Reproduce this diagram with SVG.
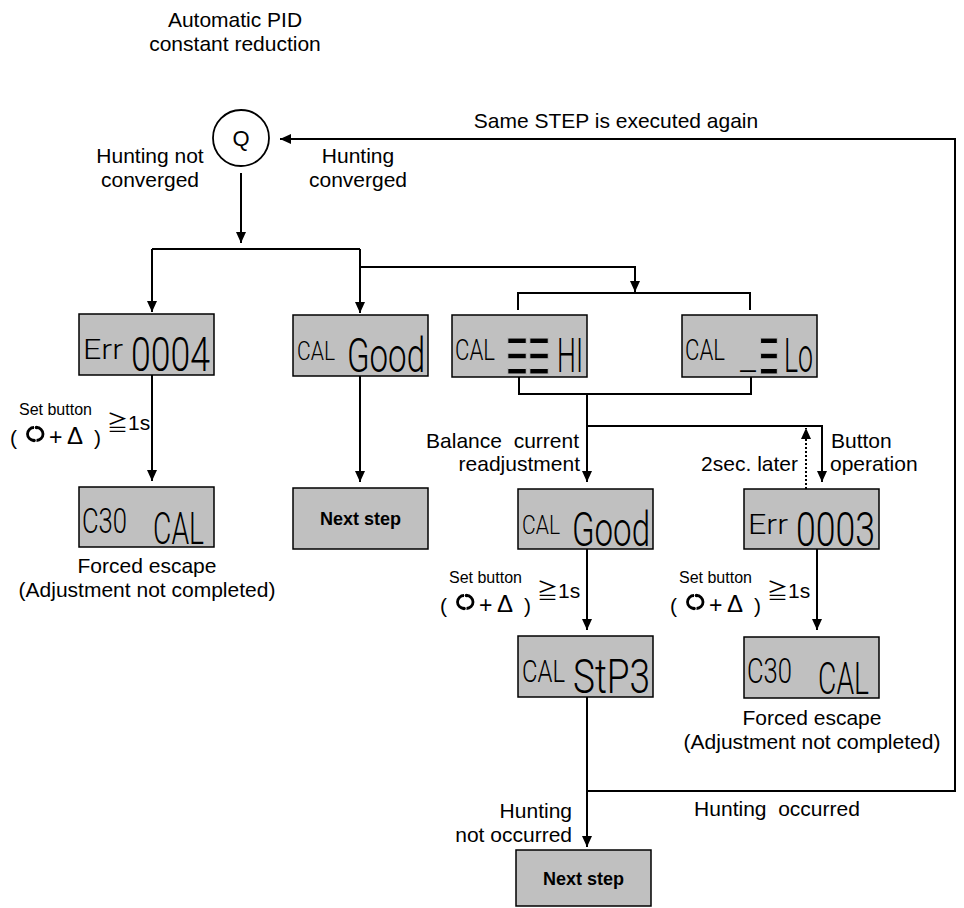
<svg xmlns="http://www.w3.org/2000/svg" xmlns:xlink="http://www.w3.org/1999/xlink" width="964" height="908" viewBox="0 0 964 908">
  <style>
    .lbl { font-family: "Liberation Sans", Arial, "Noto Sans CJK JP", sans-serif; font-size: 21px; fill: #000; }
    .mid { text-anchor: middle; }
    .end { text-anchor: end; }
    .tiny { font-size: 16px; }
    .disp { fill: #c0c0c0; stroke: #000; stroke-width: 1.5; }
    .seg { font-family: Roboto, "DejaVu Sans", sans-serif; font-weight: 300; fill: #000; }
    /* level bars: thinned by a stroke in the panel colour */
    .bars { font-family: "Liberation Sans", "DejaVu Sans", sans-serif; font-size: 88px; fill: #000; stroke: #c0c0c0; stroke-width: 2; }
    .step { font-family: "Liberation Sans", Arial, sans-serif; font-size: 18px; font-weight: bold; fill: #000; text-anchor: middle; }
    .wire { fill: none; stroke: #000; stroke-width: 2; }
    .dotted { stroke-dasharray: 2 2; }
  </style>
  <defs>
    <marker id="arrow" markerUnits="userSpaceOnUse" markerWidth="11" markerHeight="10" refX="11" refY="5" orient="auto">
      <path d="M0,0 L11,5 L0,10 Z" fill="#000"/>
    </marker>
    <!-- "Set button (rotate + up) >= 1s" hint; origin = start/baseline of "Set button" -->
    <g id="setbtn">
      <text class="lbl tiny" x="0" y="0">Set button</text>
      <text class="lbl" x="88" y="15">≧1s</text>
      <text class="lbl" x="-9" y="30">(</text>
      <g fill="none" stroke="#000" stroke-width="2.8">
        <path d="M15,12.5 A6.5,6.5 0 0 0 15,25.5"/>
        <path d="M17.5,12.5 A6.5,6.5 0 0 1 17.5,25.5"/>
      </g>
      <circle cx="15" cy="25.5" r="1.8" fill="#000"/>
      <circle cx="17.5" cy="12.5" r="1.8" fill="#000"/>
      <text class="lbl" x="30" y="30" style="font-size:23px">+</text>
      <text class="lbl" x="48" y="29" style="font-size:24px">Δ</text>
      <text class="lbl" x="75" y="30">)</text>
    </g>
  </defs>

  <!-- title -->
  <g id="title">
    <text class="lbl mid" x="235" y="27">Automatic PID</text>
    <text class="lbl mid" x="235" y="51">constant reduction</text>
  </g>

  <!-- start node -->
  <g id="node-q">
    <circle cx="241" cy="138" r="28" fill="#fff" stroke="#000" stroke-width="1.8"/>
    <text class="lbl mid" x="241" y="146" style="font-size:22px">Q</text>
  </g>

  <!-- connectors -->
  <g id="connectors">
    <path class="wire" d="M241,173 V243" marker-end="url(#arrow)"/>
    <path class="wire" d="M152,249 H360"/>
    <path class="wire" d="M152,249 V312" marker-end="url(#arrow)"/>
    <path class="wire" d="M360,249 V313" marker-end="url(#arrow)"/>
    <path class="wire" d="M360,267 H635 V292" marker-end="url(#arrow)"/>
    <path class="wire" d="M518,310 V293 H750 V310"/>
    <path class="wire" d="M152,375 V481" marker-end="url(#arrow)"/>
    <path class="wire" d="M360,375 V482" marker-end="url(#arrow)"/>
    <path class="wire" d="M519,377 V394 H751 V377"/>
    <path class="wire" d="M587,394 V482" marker-end="url(#arrow)"/>
    <path class="wire" d="M587,426 H822 V482" marker-end="url(#arrow)"/>
    <path class="wire dotted" d="M806,489 V428" marker-end="url(#arrow)"/>
    <path class="wire" d="M587,549 V630" marker-end="url(#arrow)"/>
    <path class="wire" d="M817,549 V630" marker-end="url(#arrow)"/>
    <path class="wire" d="M587,697 V847" marker-end="url(#arrow)"/>
    <path class="wire" d="M587,791 H955 V139 H280" marker-end="url(#arrow)"/>
  </g>

  <!-- connector labels -->
  <g id="labels">
    <text class="lbl mid" x="616" y="128">Same STEP is executed again</text>
    <text class="lbl mid" x="150" y="163">Hunting not</text>
    <text class="lbl mid" x="150" y="187">converged</text>
    <text class="lbl mid" x="358" y="163">Hunting</text>
    <text class="lbl mid" x="358" y="187">converged</text>
    <text class="lbl end" x="579" y="448" xml:space="preserve">Balance  current</text>
    <text class="lbl end" x="580" y="471">readjustment</text>
    <text class="lbl end" x="798" y="471">2sec. later</text>
    <text class="lbl" x="831" y="448">Button</text>
    <text class="lbl" x="830" y="471">operation</text>
    <text class="lbl mid" x="777" y="816" xml:space="preserve">Hunting  occurred</text>
    <text class="lbl end" x="572" y="818">Hunting</text>
    <text class="lbl end" x="572" y="842">not occurred</text>
    <text class="lbl mid" x="147" y="573">Forced escape</text>
    <text class="lbl mid" x="147" y="597">(Adjustment not completed)</text>
    <text class="lbl mid" x="812" y="725">Forced escape</text>
    <text class="lbl mid" x="812" y="749">(Adjustment not completed)</text>
    <use xlink:href="#setbtn" x="19" y="415"/>
    <use xlink:href="#setbtn" x="449" y="583"/>
    <use xlink:href="#setbtn" x="679" y="583"/>
  </g>

  <!-- display nodes -->
  <g id="disp-err0004">
    <rect class="disp" x="79" y="314" width="135" height="61"/>
    <text class="seg"><tspan x="83" y="359" font-size="27" textLength="40" lengthAdjust="spacingAndGlyphs">Err</tspan><tspan x="131" y="371" font-size="48" textLength="79" lengthAdjust="spacingAndGlyphs">0004</tspan></text>
  </g>
  <g id="disp-cal-good">
    <rect class="disp" x="293" y="315" width="135" height="61"/>
    <text class="seg"><tspan x="297" y="360" font-size="25" textLength="38" lengthAdjust="spacingAndGlyphs">CAL</tspan><tspan x="347" y="372" font-size="48" textLength="78" lengthAdjust="spacingAndGlyphs">Good</tspan></text>
  </g>
  <g id="disp-cal-hi">
    <rect class="disp" x="452" y="315" width="135" height="62"/>
    <text class="seg"><tspan x="455" y="360" font-size="30" textLength="40" lengthAdjust="spacingAndGlyphs">CAL</tspan><tspan x="557" y="372" font-size="48" textLength="26" lengthAdjust="spacingAndGlyphs">HI</tspan></text>
    <text class="bars" transform="translate(506,385) scale(0.428,1)" textLength="103" lengthAdjust="spacingAndGlyphs">≡≡</text>
  </g>
  <g id="disp-cal-lo">
    <rect class="disp" x="682" y="315" width="135" height="62"/>
    <text class="seg"><tspan x="685" y="360" font-size="30" textLength="40" lengthAdjust="spacingAndGlyphs">CAL</tspan><tspan x="740" y="370" font-size="36" textLength="16" lengthAdjust="spacingAndGlyphs">_</tspan><tspan x="784" y="372" font-size="48" textLength="29" lengthAdjust="spacingAndGlyphs">Lo</tspan></text>
    <text class="bars" transform="translate(759,385) scale(0.39,1)" textLength="51" lengthAdjust="spacingAndGlyphs">≡</text>
  </g>
  <g id="disp-c30-left">
    <rect class="disp" x="79" y="487" width="135" height="60"/>
    <text class="seg"><tspan x="82" y="533" font-size="35" textLength="45" lengthAdjust="spacingAndGlyphs">C30</tspan><tspan x="153" y="544" font-size="45" textLength="51" lengthAdjust="spacingAndGlyphs">CAL</tspan></text>
  </g>
  <g id="next-step-1">
    <rect class="disp" x="293" y="488" width="135" height="61"/>
    <text class="step" x="360.5" y="525">Next step</text>
  </g>
  <g id="disp-cal-good-2">
    <rect class="disp" x="518" y="489" width="135" height="60"/>
    <text class="seg"><tspan x="522" y="534" font-size="25" textLength="38" lengthAdjust="spacingAndGlyphs">CAL</tspan><tspan x="572" y="546" font-size="48" textLength="78" lengthAdjust="spacingAndGlyphs">Good</tspan></text>
  </g>
  <g id="disp-err0003">
    <rect class="disp" x="744" y="489" width="135" height="60"/>
    <text class="seg"><tspan x="748" y="534" font-size="27" textLength="40" lengthAdjust="spacingAndGlyphs">Err</tspan><tspan x="796" y="546" font-size="48" textLength="79" lengthAdjust="spacingAndGlyphs">0003</tspan></text>
  </g>
  <g id="disp-cal-stp3">
    <rect class="disp" x="518" y="636" width="135" height="61"/>
    <text class="seg"><tspan x="522" y="682" font-size="31" textLength="43" lengthAdjust="spacingAndGlyphs">CAL</tspan><tspan x="573" y="693" font-size="49" textLength="77" lengthAdjust="spacingAndGlyphs">StP3</tspan></text>
  </g>
  <g id="disp-c30-right">
    <rect class="disp" x="744" y="637" width="135" height="61"/>
    <text class="seg"><tspan x="747" y="683" font-size="35" textLength="45" lengthAdjust="spacingAndGlyphs">C30</tspan><tspan x="818" y="694" font-size="45" textLength="51" lengthAdjust="spacingAndGlyphs">CAL</tspan></text>
  </g>
  <g id="next-step-2">
    <rect class="disp" x="516" y="850" width="135" height="56"/>
    <text class="step" x="583.5" y="885">Next step</text>
  </g>
</svg>
